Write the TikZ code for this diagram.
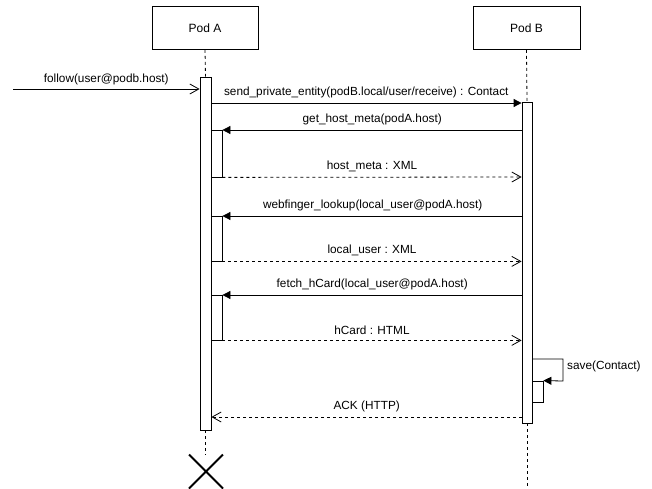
\documentclass[tikz,border=0pt]{standalone}
\usepackage{fontspec}
\setmainfont{Liberation Sans}
\usetikzlibrary{arrows.meta,shapes.misc}

\tikzset{
  lbl/.style={font=\fontsize{11.8}{13}\selectfont, inner sep=0pt},
  actor/.style={draw, line width=0.8pt, fill=white, inner sep=0pt,
    font=\fontsize{12}{14}\selectfont, minimum height=43pt},
  bar/.style={draw, line width=0.8pt, fill=white, inner sep=0pt, minimum width=11pt},
  lifeline/.style={line width=0.8pt, dash pattern=on 3pt off 3pt},
  call/.style={line width=0.8pt, -{Triangle[length=8pt,width=8pt]}},
  async/.style={line width=0.8pt, -{Straight Barb[length=9pt,width=10pt]}},
  reply/.style={line width=0.8pt, dash pattern=on 3pt off 3pt,
    -{Straight Barb[length=9pt,width=10pt]}},
}

\begin{document}
\begin{tikzpicture}[x=1pt, y=-1pt]
\useasboundingbox (0,0) rectangle (652,489);

% participants
\node[actor, minimum width=106pt] (podA) at (205,28) {Pod A};
\node[actor, minimum width=107pt] (podB) at (526.5,28) {Pod B};

% activation bars
\node[bar, minimum height=353pt] (barA) at (205.5,253.5) {};
\node[bar, minimum width=10pt, minimum height=321pt] (barB) at (527,262.5) {};
\node[bar, minimum height=47pt] (subA1) at (216.5,153.5) {};
\node[bar, minimum height=45pt] (subA2) at (216.5,238.5) {};
\node[bar, minimum height=45pt] (subA3) at (216.5,317.5) {};
\node[bar, minimum height=21pt] (subB) at (537.5,391.5) {};

% termination of Pod A
\node[cross out, draw, line width=2pt, minimum size=32pt, inner sep=0pt] (endA) at (206,471.5) {};

% lifelines
\draw[lifeline] (podA.south) -- (barA.north);
\draw[lifeline] (barA.south) -- (barA.south |- endA.north);
\draw[lifeline] (podB.south) -- (barB.north);
\coordinate (bottomB) at (527,489);
\draw[lifeline] (barB.south) -- (bottomB);

% incoming request
\coordinate (start) at (13,89);
\draw[async] (start) -- (barA.west |- start)
  node[lbl, pos=0.5, above=4pt] {follow(user@podb.host)};

% send_private_entity
\coordinate (m1) at (211,103);
\draw[call] (m1) -- (barB.west |- m1)
  node[lbl, midway, above=5pt] {send\_private\_entity(podB.local/user/receive) : Contact};

% get_host_meta
\coordinate (m2) at (522,130);
\draw[call] (m2) -- (subA1.east |- m2)
  node[lbl, midway, above=5pt] {get\_host\_meta(podA.host)};
\coordinate (r2) at (222,177);
\draw[reply] (subA1.south east) -- (barB.west |- r2)
  node[lbl, midway, above=5pt] {host\_meta : XML};

% webfinger_lookup
\coordinate (m3) at (523,216);
\draw[call] (m3) -- (subA2.east |- m3)
  node[lbl, midway, above=5pt] {webfinger\_lookup(local\_user@podA.host)};
\draw[reply] (subA2.south east) -- (barB.west |- subA2.south east)
  node[lbl, midway, above=5pt] {local\_user : XML};

% fetch_hCard
\coordinate (m4) at (522,295);
\draw[call] (m4) -- (subA3.east |- m4)
  node[lbl, midway, above=5pt] {fetch\_hCard(local\_user@podA.host)};
\draw[reply] (subA3.south east) -- (barB.west |- subA3.south east)
  node[lbl, midway, above=5pt] {hCard : HTML};

% self call on Pod B
\coordinate (s1) at (532,359);
\coordinate (s2) at (563,359);
\coordinate (s3) at (563,381);
\draw[call] (s1) -- (s2) -- (s3) -- (subB.north east);
\node[lbl, anchor=west] (saveLbl) at (567,366) {save(Contact)};

% acknowledgement
\coordinate (r5) at (522,417);
\draw[reply] (r5) -- (barA.east |- r5)
  node[lbl, midway, above=5pt] {ACK (HTTP)};
\end{tikzpicture}
\end{document}
